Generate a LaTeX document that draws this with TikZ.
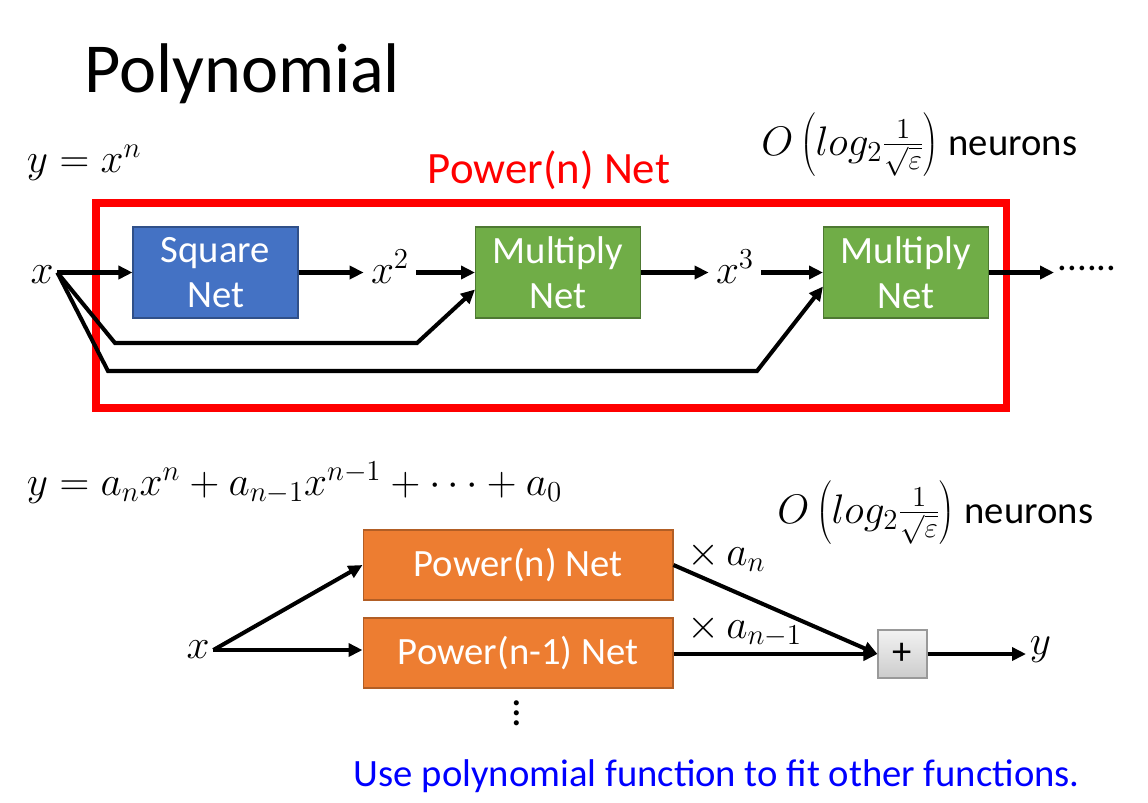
\RequirePackage{fix-cm}
\documentclass[tikz,border=0pt]{standalone}
\usepackage{fontspec}
\setmainfont{Carlito}
\usetikzlibrary{arrows.meta}
\tikzset{>={Triangle[length=0.28cm,width=0.26cm]}}
\definecolor{sqblue}{HTML}{4472C4}
\definecolor{mulgreen}{HTML}{70AD47}
\definecolor{poworange}{HTML}{ED7D31}
\definecolor{fitblue}{HTML}{0000FF}

\begin{document}
\begin{tikzpicture}[x=0.02cm,y=-0.02cm,
txt/.style  = {font=\fontsize{22}{25.6}\selectfont, inner sep=2pt},
mathtxt/.style = {font=\fontsize{23.5}{27}\selectfont, inner sep=2pt},
netbox/.style = {
    txt, fill=#1, draw=#1!70!black, line width=0.6pt,
    text=white, align=center,
    minimum width=3.3cm, minimum height=1.82cm,
                },
powbox/.style = {
    txt, fill=poworange, draw=poworange!75!black, line width=0.6pt,
    text=white, minimum width=6.2cm, minimum height=1.4cm,
                },
link/.style = {->, line width=2.3pt},
                    ]
\useasboundingbox (0,0) rectangle (1148,802);
% upper part
\node[font=\fontsize{40}{44}\selectfont, anchor=base west] (title) at (78,92) {Polynomial};
\node[mathtxt, anchor=base west] (eqa) at (23,172) {$y = x^n$};
\node[font=\fontsize{25.5}{28}\selectfont, text=red, anchor=base] (pnlabel) at (549,183) {Power(n) Net};
\node[txt, anchor=base east] (costa) at (1081,155)
    {\fontsize{23.5}{27}\selectfont$O\left(log_2\frac{1}{\sqrt{\varepsilon}}\right)$ \fontsize{22}{25.6}\selectfont neurons};
\draw[red, line width=4pt] (96,203) rectangle (1006,408);

\node[mathtxt, anchor=base] (xin) at (42,283) {$x$};
\node[netbox=sqblue] (sq) at (215.5,272.5) {Square\\Net};
\node[mathtxt, anchor=base, inner sep=4pt] (xsq) at (390,283) {$x^2$};
\node[netbox=mulgreen] (mul1) at (558,272.5) {Multiply\\Net};
\node[mathtxt, anchor=base, inner sep=4pt] (xcube) at (735,283) {$x^3$};
\node[netbox=mulgreen] (mul2) at (906,272.5) {Multiply\\Net};
\node[txt, anchor=west] (more) at (1054,268) {......};

\draw[link] (xin.east |- sq.west) -- (sq.west);
\draw[link] (sq.east) -- (sq.east -| xsq.west);
\draw[link] (sq.east -| xsq.east) -- (mul1.west);
\draw[link] (mul1.east) -- (mul1.east -| xcube.west);
\draw[link] (mul1.east -| xcube.east) -- (mul2.west);
\draw[link] (mul2.east) -- (mul2.east -| more.west);
\draw[link] (xin.east |- sq.west) -- (115,343) -- (417,343)
    -- ([yshift=-0.34cm]mul1.west);
\draw[link] (xin.east |- sq.west) -- (108,371) -- (757,371)
    -- ([yshift=-0.28cm]mul2.west);

% lower part
\node[mathtxt, anchor=base west] (eqb) at (23,495)
    {$y = a_n x^n + a_{n-1} x^{n-1} + \cdots + a_0$};
\node[txt, anchor=base east] (costb) at (1097,523)
    {\fontsize{23.5}{27}\selectfont$O\left(log_2\frac{1}{\sqrt{\varepsilon}}\right)$ \fontsize{22}{25.6}\selectfont neurons};

\node[mathtxt] (xb) at (198,650) {$x$};
\node[powbox] (pn) at (518,565) {Power(n) Net};
\node[powbox] (pn1) at (518,653) {Power(n-1) Net};
\node[font=\fontsize{24}{5.8}\selectfont, align=center, inner sep=1pt] (vdots) at (517,713) {.\\.\\.};
\node[txt, draw=gray!80, line width=0.6pt, top color=gray!10, bottom color=gray!40,
      minimum width=0.98cm, minimum height=0.96cm] (plus) at (902.5,654) {+};
\node[mathtxt, anchor=west] (yout) at (1026,650) {$y$};
\node[mathtxt, anchor=base west] (wa) at ([xshift=0.2cm]pn.east) {$\times\, a_n$};
\node[mathtxt, anchor=base west] (wb) at ([xshift=0.2cm,yshift=0.3cm]pn1.east) {$\times\, a_{n-1}$};

\draw[link] (xb.east) -- (pn.west);
\draw[link] (xb.east) -- (xb.east -| pn1.west);
\draw[link] (pn.east) -- (plus.west);
\draw[link] (pn1.east |- plus.west) -- (plus.west);
\draw[link] (plus.east) -- (plus.east -| yout.west);

\node[txt, text=fitblue, anchor=base west] (note) at (350,786)
    {Use polynomial function to fit other functions.};
\end{tikzpicture}
\end{document}
